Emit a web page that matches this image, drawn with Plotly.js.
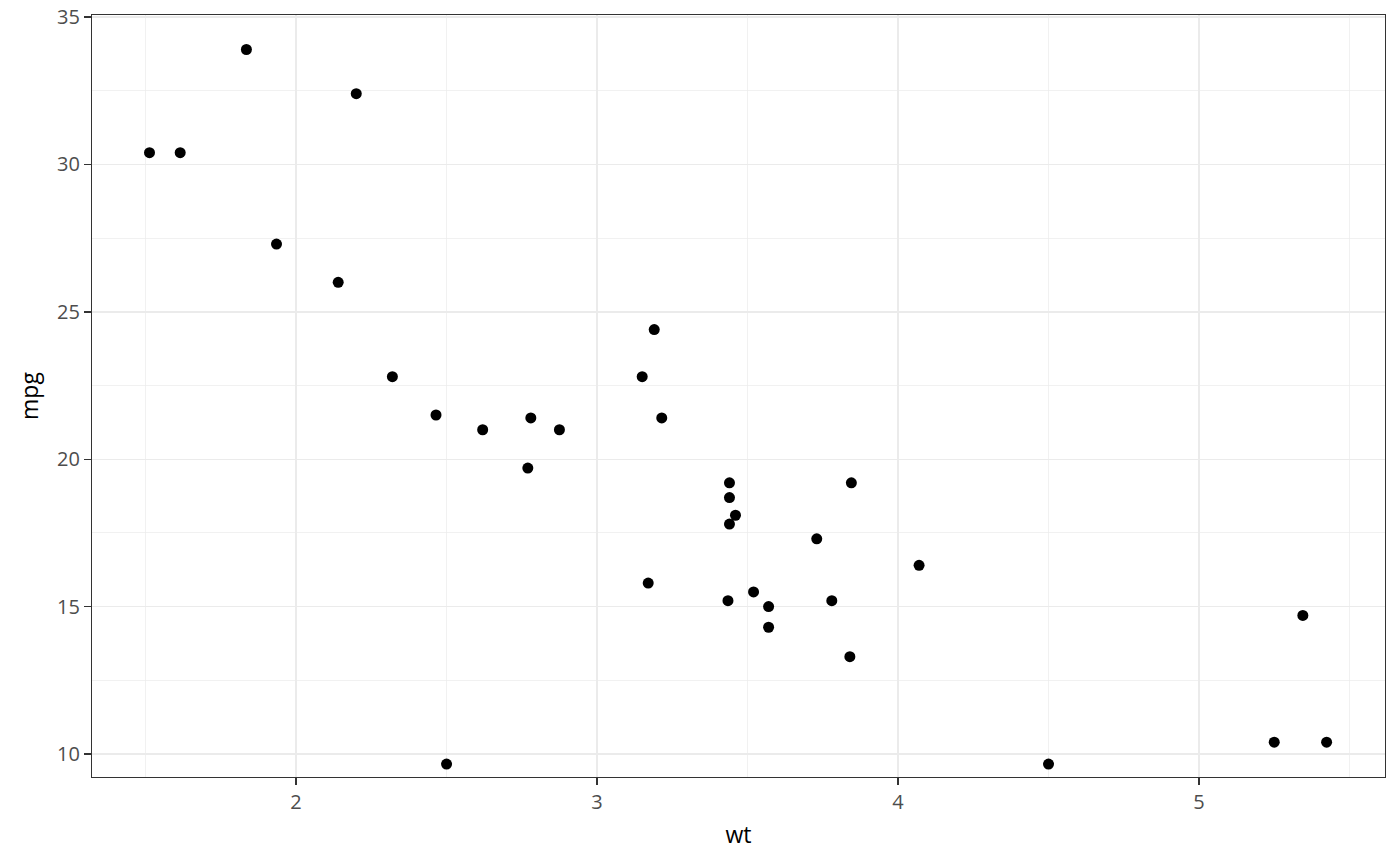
<!DOCTYPE html>
<html>
<head>
<meta charset="utf-8">
<script src="https://cdn.plot.ly/plotly-3.0.1.min.js"></script>
<style>html,body{margin:0;padding:0;background:#fff;}#chart{width:1400px;height:866px;}</style>
</head>
<body>
<div id="chart"></div>
<script>
const wt = [2.620, 2.875, 2.320, 3.215, 3.440, 3.460, 3.570, 3.190, 3.150, 3.440, 3.440, 4.070, 3.730, 3.780, 5.250, 5.424, 5.345, 2.200, 1.615, 1.835, 2.465, 3.520, 3.435, 3.840, 3.845, 1.935, 2.140, 1.513, 3.170, 2.770, 3.570, 2.780, 2.500, 4.500];
const mpg = [21.0, 21.0, 22.8, 21.4, 18.7, 18.1, 14.3, 24.4, 22.8, 19.2, 17.8, 16.4, 17.3, 15.2, 10.4, 10.4, 14.7, 32.4, 30.4, 33.9, 21.5, 15.5, 15.2, 13.3, 19.2, 27.3, 26.0, 30.4, 15.8, 19.7, 15.0, 21.4, 9.66, 9.66];
const xTicks = [2, 3, 4, 5];
const yTicks = [10, 15, 20, 25, 30, 35];

const FONT = 'Open Sans, Noto Sans, sans-serif';
const axisCommon = {
  showline: true, mirror: true, linecolor: '#333333', linewidth: 1.1,
  showgrid: true, gridcolor: '#ebebeb', gridwidth: 1.4,
  zeroline: false,
  ticks: 'outside', ticklen: 7, tickwidth: 1.4, tickcolor: '#333333',
  tickfont: {family: FONT, size: 20, color: '#4d4d4d'},
};

Plotly.newPlot('chart', [{
  type: 'scatter', mode: 'markers', x: wt, y: mpg,
  marker: {color: '#000000', size: 11},
  hoverinfo: 'x+y'
}], {
  width: 1400, height: 866,
  paper_bgcolor: '#ffffff', plot_bgcolor: '#ffffff',
  margin: {l: 92, r: 15, t: 15, b: 89},
  showlegend: false,
  xaxis: Object.assign({}, axisCommon, {
    range: [1.322, 5.618], tickvals: xTicks, ticktext: xTicks.map(String),
    minor: {tickvals: [1.5, 2.5, 3.5, 4.5, 5.5], showgrid: true, gridcolor: '#ebebeb', gridwidth: 0.7, ticks: ''},
    title: {text: 'wt', font: {family: FONT, size: 23, color: '#000000'}, standoff: 12}
  }),
  yaxis: Object.assign({}, axisCommon, {
    range: [9.22, 35.07], tickvals: yTicks, ticktext: yTicks.map(String),
    minor: {tickvals: [12.5, 17.5, 22.5, 27.5, 32.5], showgrid: true, gridcolor: '#ebebeb', gridwidth: 0.7, ticks: ''},
    title: {text: 'mpg', font: {family: FONT, size: 23, color: '#000000'}, standoff: 12}
  })
}, {displayModeBar: false, staticPlot: true});
</script>
</body>
</html>
